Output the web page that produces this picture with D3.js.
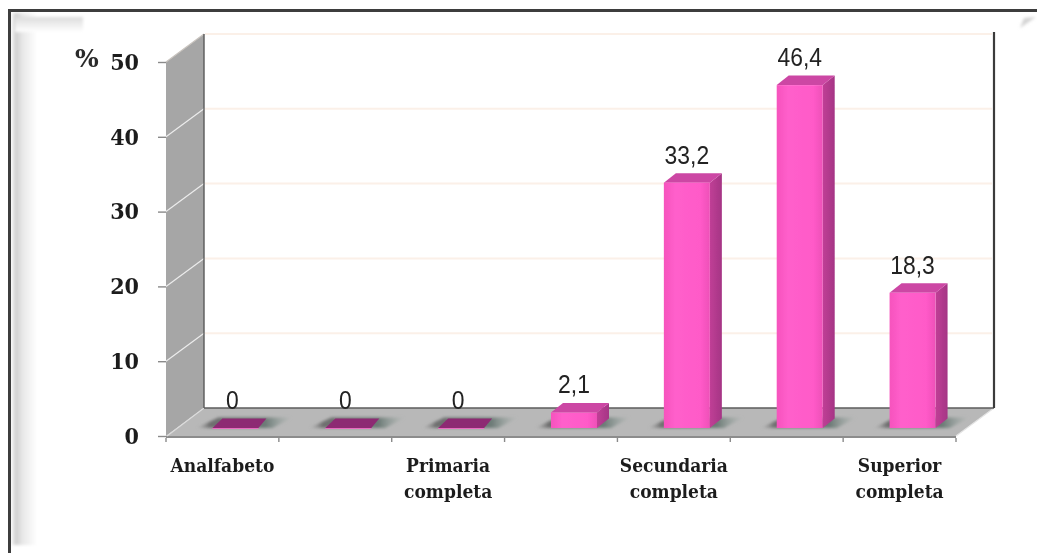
<!DOCTYPE html>
<html><head><meta charset="utf-8">
<script src="https://cdn.jsdelivr.net/npm/d3@7"></script>
<style>html,body{margin:0;padding:0;background:#fff}svg{display:block}</style>
</head><body><svg id="c" width="1037" height="553"></svg>
<script>
const categories = ["c1","c2","c3","c4","c5","c6","c7"];
const values = [0,0,0,2.1,33.2,46.4,18.3];
const valueLabels = ["0","0","0","2,1","33,2","46,4","18,3"];
const categoryLabels = [["Analfabeto"],[],["Primaria","completa"],[],["Secundaria","completa"],[],["Superior","completa"]];
const yTicks = [0,10,20,30,40,50];

const svg = d3.select("#c");
const defs = svg.append("defs");
const mkBlur=(id,sd)=>defs.append("filter").attr("id",id).attr("x","-30%").attr("y","-60%").attr("width","160%").attr("height","220%").append("feGaussianBlur").attr("stdDeviation",sd);
mkBlur("blur2",1.6);
mkBlur("txt",0.45);
mkBlur("edge",1.5);
const soft = defs.append("filter").attr("id","soft").attr("filterUnits","userSpaceOnUse").attr("x",0).attr("y",0).attr("width",1037).attr("height",553);
soft.append("feGaussianBlur").attr("stdDeviation",0.7);
const lg = (id,x2,y2,stops)=>{const g=defs.append("linearGradient").attr("id",id).attr("x1",0).attr("y1",0).attr("x2",x2).attr("y2",y2);
  stops.forEach(s=>g.append("stop").attr("offset",s[0]).attr("stop-color",s[1]).attr("stop-opacity",s[2]==null?1:s[2]));};
lg("edgeL",1,0,[[0,"#fff"],[0.18,"#cfcfcf"],[0.45,"#e8e8e8"],[1,"#fff"]]);
lg("edgeT",0,1,[[0,"#dcdcdc"],[1,"#fff"]]);
lg("face",1,0,[[0,"#f653bd"],[0.25,"#ff5fcb"],[0.8,"#ff5ac8"],[1,"#ee50b8"]]);
lg("side",1,0,[[0,"#c03f96"],[1,"#a53585"]]);
lg("shade",1,0,[[0,"#8c8c8c",0],[0.14,"#6e6e6e",1],[0.72,"#6c7a76",1],[1,"#93a39d",0]]);

const line=d3.line();
const poly=(g,pts,fill)=>g.append("path").attr("d",line(pts)+"Z").attr("fill",fill);

// Frame
const frame=svg.append("g");
frame.append("rect").attr("x",11).attr("y",13).attr("width",26).attr("height",532).attr("fill","url(#edgeL)").attr("filter","url(#edge)");
frame.append("rect").attr("x",15).attr("y",17).attr("width",68).attr("height",15).attr("fill","url(#edgeT)").attr("filter","url(#edge)");
poly(frame,[[1020,28],[1036,17],[1024,18]],"#d4d4d4").attr("filter","url(#edge)");
frame.append("path").attr("d","M9.5,553V10.5H1037").attr("fill","none").attr("stroke","#3e3e3e").attr("stroke-width",3).attr("filter","url(#soft)");

// Geometry of the 3D box
const X0=166,X1=956,DX=38,DY=-28;
const y=d3.scaleLinear().domain([0,50]).range([436,62]);
const x=d3.scaleBand().domain(categories).range([X0,X1]);
const barY=d3.scaleLinear().domain([0,50]).range([428,58.5]);
const barW=46,bdx=12,bdy=-9.5,barShift=13;
const barX=c=>x(c)+x.bandwidth()/2+barShift-barW/2;

const box=svg.append("g").attr("filter","url(#soft)");
const yTop=y(50),yBot=y(0);
box.append("rect").attr("x",X0+DX).attr("y",yTop+DY).attr("width",X1-X0).attr("height",yBot-yTop).attr("fill","#fff");
poly(box,[[X0,yTop],[X0+DX,yTop+DY],[X0+DX,yBot+DY],[X0,yBot]],"#a6a6a6");
poly(box,[[X0,yBot],[X1,yBot],[X1+DX,yBot+DY],[X0+DX,yBot+DY]],"#b8b8b8");
box.append("rect").attr("x",X0).attr("y",yBot).attr("width",X1-X0).attr("height",2).attr("fill","#8c8c8c");
box.append("line").attr("x1",X0+1).attr("y1",yBot).attr("x2",X0+DX).attr("y2",yBot+DY).attr("stroke","#dcdcdc").attr("stroke-width",1.2);
box.append("line").attr("x1",X1).attr("y1",yBot).attr("x2",X1+DX).attr("y2",yBot+DY).attr("stroke","#e4e4e4").attr("stroke-width",1.2);
yTicks.filter(t=>t>0).forEach(t=>{
  box.append("line").attr("x1",X0).attr("y1",y(t)).attr("x2",X0+DX).attr("y2",y(t)+DY).attr("stroke",t===50?"#c9c4bf":"#ececec").attr("stroke-width",1.2);
  box.append("line").attr("x1",X0+DX+1).attr("y1",y(t)+DY).attr("x2",X1+DX-2).attr("y2",y(t)+DY).attr("stroke","#fbf0e8").attr("stroke-width",2);
});
box.append("line").attr("x1",X0+DX).attr("y1",yTop+DY).attr("x2",X0+DX).attr("y2",yBot+DY).attr("stroke","#5a5a5a").attr("stroke-width",1.4);
box.append("line").attr("x1",X0+DX).attr("y1",yBot+DY).attr("x2",X1+DX).attr("y2",yBot+DY).attr("stroke","#5c5c5c").attr("stroke-width",1.4);
box.append("line").attr("x1",X1+DX).attr("y1",yTop+DY-2).attr("x2",X1+DX).attr("y2",yBot+DY).attr("stroke","#3a3a3a").attr("stroke-width",2.2);

// Axes
const serif="'DejaVu Serif'";
const axL=svg.append("g").attr("transform",`translate(${X0},0)`)
  .call(d3.axisLeft(y).tickValues(yTicks).tickSize(8).tickPadding(19).tickFormat(d3.format("d")));
axL.select(".domain").remove();
axL.selectAll("line").attr("stroke","#8a8a8a").attr("stroke-width",1.4);
axL.selectAll("text").attr("font-family",serif).attr("font-stretch","condensed").attr("font-weight","bold").attr("font-size",23).attr("fill","#1c1c1c").attr("filter","url(#txt)");
svg.append("text").attr("x",75).attr("y",67).attr("font-family",serif).attr("font-weight","bold").attr("font-size",25).attr("fill","#2a2a2a").attr("filter","url(#txt)").text("%");

svg.append("g").selectAll("line").data(d3.range(categories.length+1)).join("line")
  .attr("x1",i=>X0+i*x.step()).attr("x2",i=>X0+i*x.step()).attr("y1",yBot+2).attr("y2",yBot+6)
  .attr("stroke","#8a8a8a").attr("stroke-width",1.4);

// Bars
const shadowG=svg.append("g");
const marks=svg.append("g").attr("filter","url(#soft)");
categories.forEach((c,i)=>{
  const l=barX(c),r=l+barW,b=barY(0);
  poly(shadowG,[[l-16,b],[r+14,b],[r+34,b+bdy-1],[l+6,b+bdy-1]],"url(#shade)").attr("filter","url(#blur2)");
});
categories.forEach((c,i)=>{
  const v=values[i],l=barX(c),r=l+barW,t=barY(v),b=barY(0);
  if(v===0){
    poly(marks,[[l,b],[r,b],[r+bdx-4,b+bdy],[l+bdx-2,b+bdy]],"#8d2a73");
    marks.append("line").attr("x1",l).attr("x2",r).attr("y1",b+0.5).attr("y2",b+0.5).attr("stroke","#e86cc0").attr("stroke-width",1);
    return;
  }
  poly(marks,[[r,t],[r+bdx,t+bdy],[r+bdx,b+bdy],[r,b]],"url(#side)");
  poly(marks,[[l,t],[r,t],[r+bdx,t+bdy],[l+bdx,t+bdy]],"#cc46a4");
  marks.append("rect").attr("x",l).attr("y",t).attr("width",barW).attr("height",b-t).attr("fill","url(#face)");
});

// Value labels
svg.append("g").selectAll("text").data(categories).join("text")
  .attr("x",(c,i)=>barX(c)+barW/2-(values[i]===0?3:0))
  .attr("y",(c,i)=>barY(values[i])+bdy-9.5)
  .attr("text-anchor","middle")
  .attr("font-family","'Liberation Sans'")
  .attr("font-size",26).attr("fill","#222").attr("filter","url(#txt)")
  .text((c,i)=>valueLabels[i])
  .each(function(){ this.setAttribute("textLength",this.getComputedTextLength()*0.88); this.setAttribute("lengthAdjust","spacingAndGlyphs"); });

// Category labels
const cat=svg.append("g").attr("font-family",serif).attr("font-stretch","condensed").attr("font-weight","bold").attr("font-size",19).attr("fill","#1c1c1c").attr("text-anchor","middle").attr("filter","url(#txt)");
categories.forEach((c,i)=>{
  categoryLabels[i].forEach((s,k)=>{
    cat.append("text").attr("x",x(c)+x.bandwidth()/2).attr("y",472+k*26).text(s);
  });
});
</script></body></html>
